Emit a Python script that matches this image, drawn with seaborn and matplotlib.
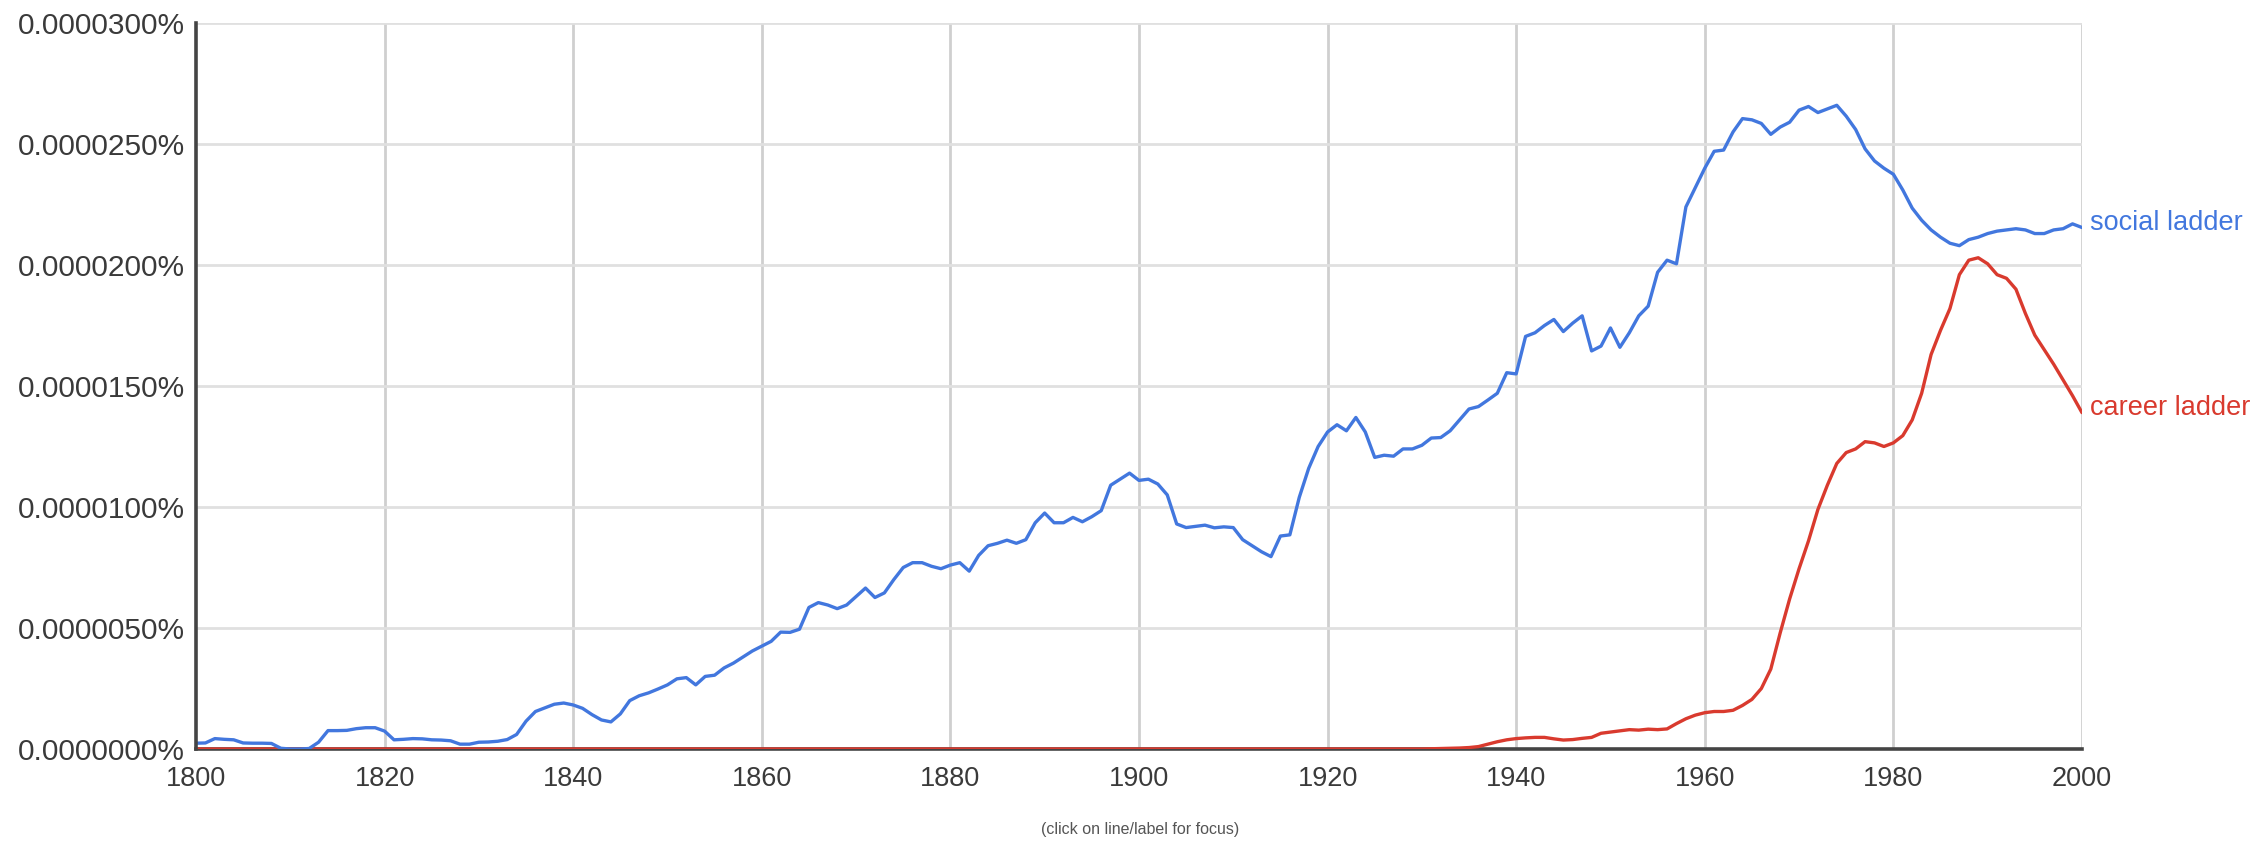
import numpy as np
import pandas as pd
import matplotlib
matplotlib.use("Agg")
import matplotlib.pyplot as plt
import seaborn as sns

# ---------------- data (units of 0.0000001 %) ----------------
years = list(range(1800, 2001))

social_ladder = [
    2.4, 2.5, 4.3, 4.0, 3.8, 2.5, 2.4, 2.4, 2.3, 0.3,          # 1800-1809
    0.0, 0.0, 0.2, 2.8, 7.6, 7.6, 7.7, 8.4, 8.8, 8.8,          # 1810-1819
    7.4, 3.8, 4.0, 4.3, 4.2, 3.8, 3.7, 3.4, 2.0, 2.0,          # 1820-1829
    2.8, 2.9, 3.2, 3.9, 6.0, 11.5, 15.5, 17.0, 18.5, 19.0,     # 1830-1839
    18.2, 16.8, 14.2, 12.0, 11.2, 14.5, 20.0, 22.0, 23.2, 24.8,  # 1840-1849
    26.5, 29.0, 29.5, 26.5, 30.0, 30.5, 33.5, 35.5, 38.0, 40.5,  # 1850-1859
    42.5, 44.5, 48.3, 48.2, 49.5, 58.5, 60.5, 59.5, 58.0, 59.5,  # 1860-1869
    63.0, 66.5, 62.6, 64.5, 70.0, 75.0, 77.0, 77.0, 75.5, 74.5,  # 1870-1879
    76.0, 77.0, 73.5, 80.0, 84.0, 85.0, 86.3, 85.0, 86.5, 93.5,  # 1880-1889
    97.5, 93.5, 93.5, 95.7, 93.9, 96.0, 98.5, 109.0, 111.5, 114.0,  # 1890-1899
    111.0, 111.5, 109.5, 105.0, 93.0, 91.5, 92.0, 92.5, 91.4, 91.8,  # 1900-1909
    91.5, 86.5, 84.0, 81.5, 79.5, 88.0, 88.5, 104.0, 116.0, 125.0,  # 1910-1919
    131.0, 134.0, 131.5, 137.0, 131.0, 120.5, 121.4, 121.0, 124.0, 124.0,  # 1920-1929
    125.5, 128.5, 128.7, 131.5, 136.0, 140.5, 141.5, 144.2, 147.0, 155.5,  # 1930-1939
    155.0, 170.5, 172.0, 175.0, 177.5, 172.5, 176.0, 179.0, 164.5, 166.5,  # 1940-1949
    174.0, 166.0, 172.0, 179.0, 183.0, 197.0, 202.0, 200.5, 224.0, 232.0,  # 1950-1959
    240.0, 247.0, 247.5, 255.0, 260.5, 260.0, 258.5, 254.0, 257.0, 259.0,  # 1960-1969
    264.0, 265.5, 263.0, 264.5, 266.0, 261.5, 256.0, 248.0, 243.0, 240.0,  # 1970-1979
    237.5, 231.0, 223.5, 218.5, 214.5, 211.5, 209.0, 208.0, 210.5, 211.5,  # 1980-1989
    213.0, 214.0, 214.5, 215.0, 214.5, 213.0, 213.0, 214.5, 215.0, 217.0,  # 1990-1999
    215.5,                                                        # 2000
]

career_ladder = (
    [0.0] * 131 +                                                 # 1800-1930
    [0.1, 0.2, 0.3, 0.4, 0.6, 1.0, 2.0, 3.0, 3.8,                  # 1931-1939
     4.3, 4.6, 4.8, 4.8, 4.2, 3.7, 3.9, 4.4, 4.8, 6.5,            # 1940-1949
     7.0, 7.5, 8.0, 7.8, 8.2, 8.0, 8.3, 10.5, 12.5, 14.0,         # 1950-1959
     15.0, 15.5, 15.5, 16.0, 18.0, 20.5, 25.0, 33.0, 48.0, 62.0,  # 1960-1969
     74.5, 86.0, 99.0, 109.0, 118.0, 122.5, 124.0, 127.0, 126.5, 125.0,  # 1970-1979
     126.5, 129.5, 136.0, 147.0, 163.0, 173.0, 182.0, 196.0, 202.0, 203.0,  # 1980-1989
     200.5, 196.0, 194.5, 190.0, 180.0, 171.0, 165.0, 159.0, 152.5, 146.0,  # 1990-1999
     139.0]                                                       # 2000
)

series_names = ["social ladder", "career ladder"]
x_ticks = [1800, 1820, 1840, 1860, 1880, 1900, 1920, 1940, 1960, 1980, 2000]
y_ticks = [0, 50, 100, 150, 200, 250, 300]
y_tick_labels = ["0.0000000%", "0.0000050%", "0.0000100%", "0.0000150%",
                 "0.0000200%", "0.0000250%", "0.0000300%"]
footer = "(click on line/label for focus)"

# ---------------- plot ----------------
sns.set_style("white")
plt.rcParams["font.family"] = ["Liberation Sans", "DejaVu Sans"]

df = pd.concat([
    pd.DataFrame({"year": years, "value": social_ladder, "ngram": series_names[0]}),
    pd.DataFrame({"year": years, "value": career_ladder, "ngram": series_names[1]}),
])

blue = "#4277de"
red = "#d93a2e"
palette = {series_names[0]: blue, series_names[1]: red}

fig = plt.figure(figsize=(22.63, 8.43), dpi=100)
ax = fig.add_axes([0.0866, 0.1115, 0.8334, 0.8612])

# grid
for xt in x_ticks[1:]:
    ax.axvline(xt, color="#cfcfcf", lw=2.0, zorder=0)
for yt in y_ticks[1:]:
    ax.axhline(yt, color="#e0e0e0", lw=2.0, zorder=0)

sns.lineplot(data=df, x="year", y="value", hue="ngram", palette=palette,
             hue_order=[series_names[1], series_names[0]],
             linewidth=2.4, legend=False, ax=ax, zorder=3)

ax.set_xlim(1800, 2000)
ax.set_ylim(0, 300)
ax.set_xticks(x_ticks)
ax.set_xticklabels([str(v) for v in x_ticks])
ax.set_yticks(y_ticks)
ax.set_yticklabels(y_tick_labels)
ax.set_xlabel("")
ax.set_ylabel("")

for side in ["top", "right"]:
    ax.spines[side].set_visible(False)
for side in ["left", "bottom"]:
    ax.spines[side].set_color("#444444")
    ax.spines[side].set_linewidth(2.6)
ax.spines["left"].set_zorder(4)

ax.tick_params(axis="both", direction="out", length=6, width=2, color="#444444")
ax.tick_params(axis="y", labelsize=21.5, labelcolor="#3a3a3a", pad=2)
ax.tick_params(axis="x", labelsize=19.5, labelcolor="#3a3a3a", pad=6)

# line labels at the right end
ax.annotate(series_names[0], xy=(years[-1], social_ladder[-1]), xytext=(6, 3),
            textcoords="offset points", va="center", ha="left",
            color=blue, fontsize=19.5, annotation_clip=False)
ax.annotate(series_names[1], xy=(years[-1], career_ladder[-1]), xytext=(6, 3),
            textcoords="offset points", va="center", ha="left",
            color=red, fontsize=19.5, annotation_clip=False)

fig.text(0.504, 0.016, footer, ha="center", va="center", fontsize=11.5,
         color="#555555")

fig.savefig("out.png", dpi=100)
